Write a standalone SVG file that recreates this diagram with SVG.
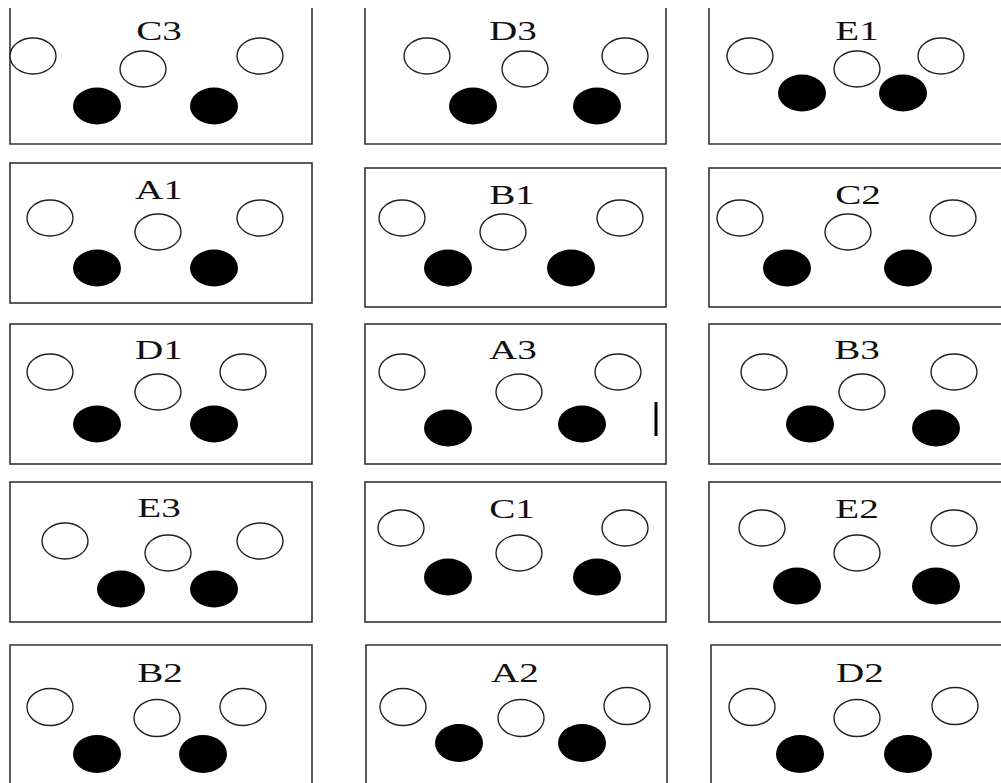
<svg xmlns="http://www.w3.org/2000/svg" width="1001" height="783" viewBox="0 0 1001 783">
<style>
.box{fill:none;stroke:#333;stroke-width:1.6}
.o{fill:#fff;stroke:#222;stroke-width:1.4}
.b{fill:#000}
.lbl{font-family:"Liberation Serif","Times New Roman",serif;font-size:27px;text-anchor:middle;fill:#111}
</style>
<rect width="1001" height="783" fill="#fff"/>

<g id="C3">
<path class="box" d="M10,8 V144 H312 V8"/>
<text class="lbl" transform="translate(159,40) scale(1.45,1)">C3</text>
<ellipse class="o" cx="33" cy="56" rx="23" ry="18"/>
<ellipse class="o" cx="143" cy="69" rx="23" ry="18"/>
<ellipse class="o" cx="260" cy="56" rx="23" ry="18"/>
<ellipse class="b" cx="97" cy="106" rx="24" ry="18.5"/>
<ellipse class="b" cx="214" cy="106" rx="24" ry="18.5"/>
</g>

<g id="D3">
<path class="box" d="M365,8 V144 H666 V8"/>
<text class="lbl" transform="translate(513,40) scale(1.45,1)">D3</text>
<ellipse class="o" cx="427" cy="56" rx="23" ry="18"/>
<ellipse class="o" cx="525" cy="69" rx="23" ry="18"/>
<ellipse class="o" cx="625" cy="56" rx="23" ry="18"/>
<ellipse class="b" cx="473" cy="106" rx="24" ry="18.5"/>
<ellipse class="b" cx="597" cy="106" rx="24" ry="18.5"/>
</g>

<g id="E1">
<path class="box" d="M709,8 V144 H1010"/>
<text class="lbl" transform="translate(857,40) scale(1.45,1)">E1</text>
<ellipse class="o" cx="750" cy="56" rx="23" ry="18"/>
<ellipse class="o" cx="857" cy="69" rx="23" ry="18"/>
<ellipse class="o" cx="941" cy="56" rx="23" ry="18"/>
<ellipse class="b" cx="802" cy="93" rx="24" ry="18.5"/>
<ellipse class="b" cx="903" cy="93" rx="24" ry="18.5"/>
</g>

<g id="A1">
<rect class="box" x="10" y="163" width="302" height="140"/>
<text class="lbl" transform="translate(159,199) scale(1.45,1)">A1</text>
<ellipse class="o" cx="50" cy="218" rx="23" ry="18"/>
<ellipse class="o" cx="158" cy="232" rx="23" ry="18"/>
<ellipse class="o" cx="260" cy="218" rx="23" ry="18"/>
<ellipse class="b" cx="97" cy="268" rx="24" ry="18.5"/>
<ellipse class="b" cx="214" cy="268" rx="24" ry="18.5"/>
</g>

<g id="B1">
<rect class="box" x="365" y="168" width="301" height="139"/>
<text class="lbl" transform="translate(512,204) scale(1.45,1)">B1</text>
<ellipse class="o" cx="402" cy="218" rx="23" ry="18"/>
<ellipse class="o" cx="503" cy="232" rx="23" ry="18"/>
<ellipse class="o" cx="620" cy="218" rx="23" ry="18"/>
<ellipse class="b" cx="448" cy="268" rx="24" ry="18.5"/>
<ellipse class="b" cx="571" cy="268" rx="24" ry="18.5"/>
</g>

<g id="C2">
<rect class="box" x="709" y="168" width="310" height="139"/>
<text class="lbl" transform="translate(858,204) scale(1.45,1)">C2</text>
<ellipse class="o" cx="740" cy="218" rx="23" ry="18"/>
<ellipse class="o" cx="848" cy="232" rx="23" ry="18"/>
<ellipse class="o" cx="953" cy="218" rx="23" ry="18"/>
<ellipse class="b" cx="787" cy="268" rx="24" ry="18.5"/>
<ellipse class="b" cx="908" cy="268" rx="24" ry="18.5"/>
</g>

<g id="D1">
<rect class="box" x="10" y="324" width="302" height="140"/>
<text class="lbl" transform="translate(159,359) scale(1.45,1)">D1</text>
<ellipse class="o" cx="50" cy="372" rx="23" ry="18"/>
<ellipse class="o" cx="158" cy="392" rx="23" ry="18"/>
<ellipse class="o" cx="243" cy="372" rx="23" ry="18"/>
<ellipse class="b" cx="97" cy="424" rx="24" ry="18.5"/>
<ellipse class="b" cx="214" cy="424" rx="24" ry="18.5"/>
</g>

<g id="A3">
<rect class="box" x="365" y="324" width="301" height="140"/>
<text class="lbl" transform="translate(513,359) scale(1.45,1)">A3</text>
<ellipse class="o" cx="402" cy="372" rx="23" ry="18"/>
<ellipse class="o" cx="519" cy="392" rx="23" ry="18"/>
<ellipse class="o" cx="618" cy="372" rx="23" ry="18"/>
<ellipse class="b" cx="448" cy="428" rx="24" ry="18.5"/>
<ellipse class="b" cx="582" cy="424" rx="24" ry="18.5"/>
<line x1="656" y1="402" x2="656" y2="436" stroke="#000" stroke-width="3"/>
</g>

<g id="B3">
<rect class="box" x="709" y="324" width="310" height="140"/>
<text class="lbl" transform="translate(857,359) scale(1.45,1)">B3</text>
<ellipse class="o" cx="764" cy="372" rx="23" ry="18"/>
<ellipse class="o" cx="862" cy="392" rx="23" ry="18"/>
<ellipse class="o" cx="954" cy="372" rx="23" ry="18"/>
<ellipse class="b" cx="810" cy="424" rx="24" ry="18.5"/>
<ellipse class="b" cx="936" cy="428" rx="24" ry="18.5"/>
</g>

<g id="E3">
<rect class="box" x="10" y="482" width="302" height="140"/>
<text class="lbl" transform="translate(159,517) scale(1.45,1)">E3</text>
<ellipse class="o" cx="65" cy="541" rx="23" ry="18"/>
<ellipse class="o" cx="168" cy="553" rx="23" ry="18"/>
<ellipse class="o" cx="260" cy="541" rx="23" ry="18"/>
<ellipse class="b" cx="121" cy="589" rx="24" ry="18.5"/>
<ellipse class="b" cx="214" cy="589" rx="24" ry="18.5"/>
</g>

<g id="C1">
<rect class="box" x="365" y="482" width="301" height="140"/>
<text class="lbl" transform="translate(512,518) scale(1.45,1)">C1</text>
<ellipse class="o" cx="401" cy="528" rx="23" ry="18"/>
<ellipse class="o" cx="519" cy="553" rx="23" ry="18"/>
<ellipse class="o" cx="625" cy="528" rx="23" ry="18"/>
<ellipse class="b" cx="448" cy="577" rx="24" ry="18.5"/>
<ellipse class="b" cx="597" cy="577" rx="24" ry="18.5"/>
</g>

<g id="E2">
<rect class="box" x="709" y="482" width="310" height="140"/>
<text class="lbl" transform="translate(857,518) scale(1.45,1)">E2</text>
<ellipse class="o" cx="762" cy="528" rx="23" ry="18"/>
<ellipse class="o" cx="857" cy="553" rx="23" ry="18"/>
<ellipse class="o" cx="954" cy="528" rx="23" ry="18"/>
<ellipse class="b" cx="797" cy="586" rx="24" ry="18.5"/>
<ellipse class="b" cx="936" cy="586" rx="24" ry="18.5"/>
</g>

<g id="B2">
<path class="box" d="M10,800 V645 H312 V800"/>
<text class="lbl" transform="translate(160,682) scale(1.45,1)">B2</text>
<ellipse class="o" cx="50" cy="707" rx="23" ry="18.5"/>
<ellipse class="o" cx="157" cy="718" rx="23" ry="18.5"/>
<ellipse class="o" cx="243" cy="707" rx="23" ry="18.5"/>
<ellipse class="b" cx="97" cy="754" rx="24" ry="19"/>
<ellipse class="b" cx="203" cy="754" rx="24" ry="19"/>
</g>

<g id="A2">
<path class="box" d="M366,800 V645 H667 V800"/>
<text class="lbl" transform="translate(515,682) scale(1.45,1)">A2</text>
<ellipse class="o" cx="403" cy="707" rx="23" ry="18.5"/>
<ellipse class="o" cx="521" cy="718" rx="23" ry="18.5"/>
<ellipse class="o" cx="627" cy="706" rx="23" ry="18.5"/>
<ellipse class="b" cx="459" cy="743" rx="24" ry="19"/>
<ellipse class="b" cx="582" cy="743" rx="24" ry="19"/>
</g>

<g id="D2">
<path class="box" d="M711,800 V645 H1010"/>
<text class="lbl" transform="translate(860,682) scale(1.45,1)">D2</text>
<ellipse class="o" cx="752" cy="707" rx="23" ry="18.5"/>
<ellipse class="o" cx="857" cy="718" rx="23" ry="18.5"/>
<ellipse class="o" cx="955" cy="706" rx="23" ry="18.5"/>
<ellipse class="b" cx="800" cy="754" rx="24" ry="19"/>
<ellipse class="b" cx="908" cy="754" rx="24" ry="19"/>
</g>
</svg>
